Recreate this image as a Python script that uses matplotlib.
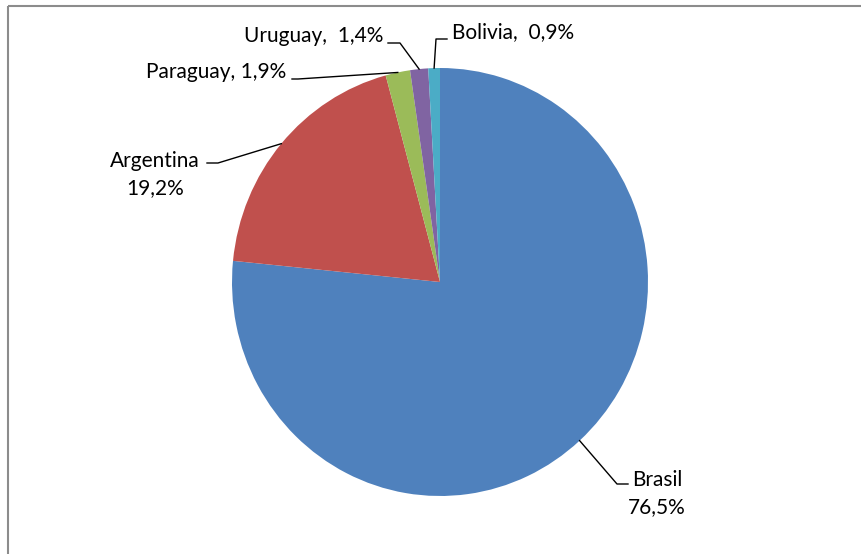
import matplotlib
matplotlib.use("Agg")
import matplotlib.pyplot as plt
import matplotlib.transforms as mtransforms
from matplotlib.lines import Line2D
from matplotlib.patches import Rectangle
import numpy as np

# Data
countries = ["Brasil", "Argentina", "Paraguay", "Uruguay", "Bolivia"]
shares = [76.5, 19.2, 1.9, 1.4, 0.9]
label_texts = ["Brasil\n76,5%", "Argentina\n19,2%", "Paraguay, 1,9%",
               "Uruguay,  1,4%", "Bolivia,  0,9%"]
colors = ["#4F81BD", "#C0504D", "#9BBB59", "#8064A2", "#4BACC6"]

W, H = 861, 554
fig = plt.figure(figsize=(W / 100, H / 100), dpi=100)
plt.rcParams['font.family'] = ['Lato', 'DejaVu Sans']
FS = 15

# pixel coordinate transform (origin top-left)
px = mtransforms.Affine2D().scale(1 / W, -1 / H).translate(0, 1) + fig.transFigure

# pie geometry in pixels
cx, cy, rx, ry = 440, 282, 208, 214
ax = fig.add_axes([(cx - rx) / W, (H - cy - ry) / H, 2 * rx / W, 2 * ry / H])
ax.axis('off')

wedges, _ = ax.pie(shares, colors=colors, startangle=90, counterclock=False,
                   radius=1, center=(0, 0), wedgeprops=dict(linewidth=0))
ax.set_xlim(-1, 1)
ax.set_ylim(-1, 1)
ax.set_aspect('auto')

# label layout (pixels): elbow, end of leader, text position, alignment
layout = [
    dict(elbow=(617, 484), end=(628, 484), pos=(657, 486), ha='center', multi=True),
    dict(elbow=(218, 163), end=(207, 163), pos=(155, 167), ha='center', multi=True),
    dict(elbow=(298, 79), end=(292, 79), pos=(286, 78), ha='right', multi=False),
    dict(elbow=(400, 43), end=(388, 43), pos=(383, 42), ha='right', multi=False),
    dict(elbow=(436, 39), end=(447, 39), pos=(452, 38), ha='left', multi=False),
]

for w, txt, lay in zip(wedges, label_texts, layout):
    mid = np.deg2rad((w.theta1 + w.theta2) / 2)
    ax_pt = (cx + rx * np.cos(mid), cy - ry * np.sin(mid))
    xs = [ax_pt[0], lay['elbow'][0], lay['end'][0]]
    ys = [ax_pt[1], lay['elbow'][1], lay['end'][1]]
    fig.add_artist(Line2D(xs, ys, transform=px, color='black', linewidth=1.0))
    if lay['multi']:
        l1, l2 = txt.split("\n")
        fig.text(lay['pos'][0], lay['pos'][1], l1, transform=px, ha='center',
                 va='baseline', fontsize=FS, color='black')
        fig.text(lay['pos'][0], lay['pos'][1] + 27, l2, transform=px, ha='center',
                 va='baseline', fontsize=FS, color='black')
    else:
        fig.text(lay['pos'][0], lay['pos'][1], txt, transform=px, ha=lay['ha'],
                 va='baseline', fontsize=FS, color='black')

# chart frame
fig.add_artist(Rectangle((8, 6), 900, 600, transform=px, fill=False,
                         edgecolor='#8c8c8c', linewidth=1.5))

fig.savefig("out.png", dpi=100)
